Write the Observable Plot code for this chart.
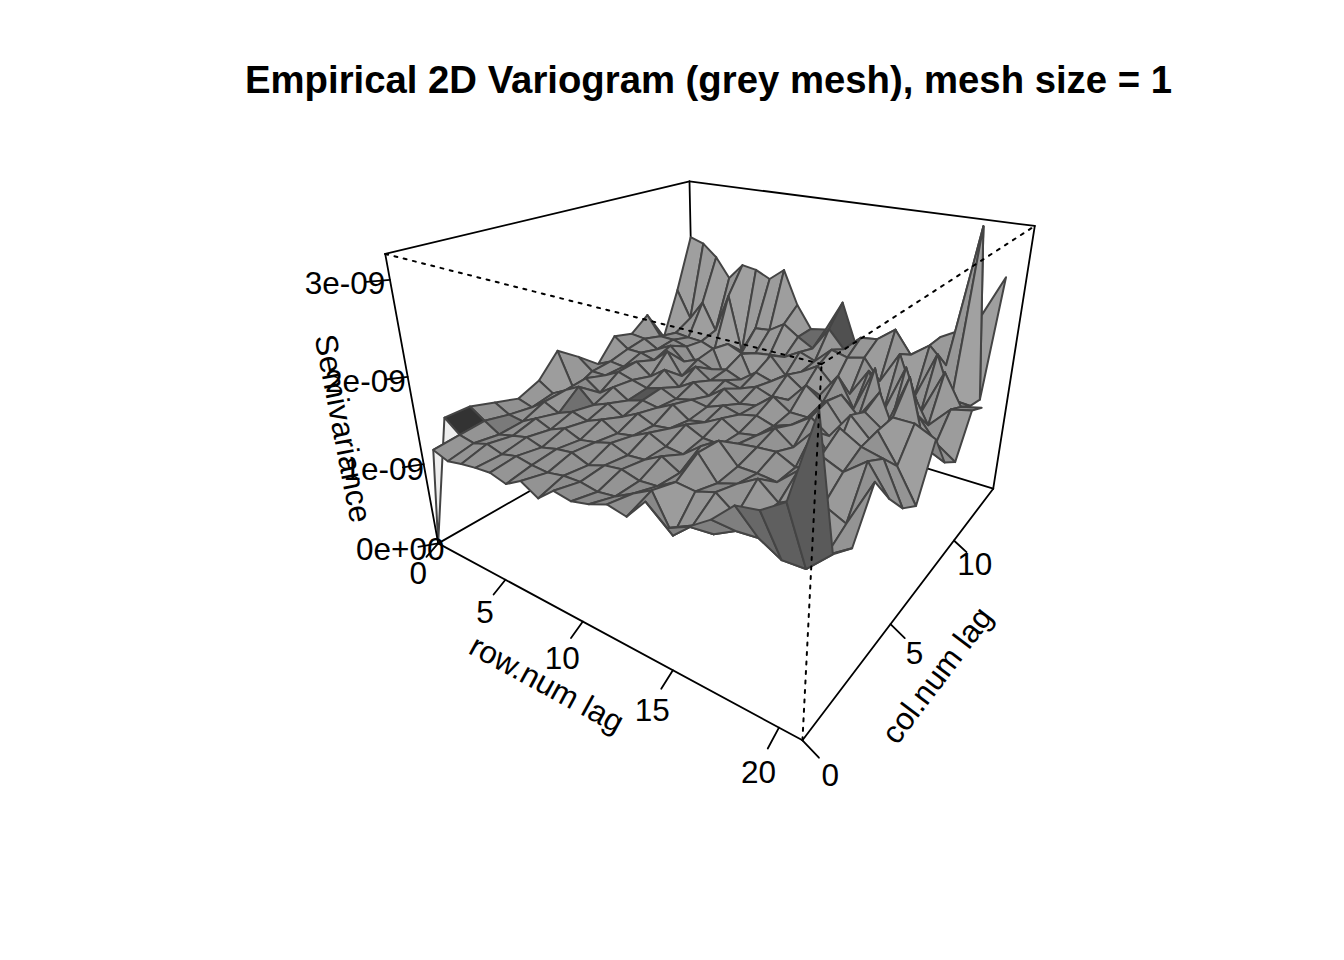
<!DOCTYPE html><html><head><meta charset="utf-8"><style>body{margin:0;background:#fff}</style></head><body>
<script src="https://cdn.jsdelivr.net/npm/d3@7"></script>
<script src="https://cdn.jsdelivr.net/npm/@observablehq/plot@0.6"></script>
<script>
const titleText="Empirical 2D Variogram (grey mesh), mesh size = 1";
const rowTicks=[0,5,10,15,20], colTicks=[0,5,10], zTicks=[0,1,2,3], zTickLabels=["0e+00","1e-09","2e-09","3e-09"];
const rowMax=21,colMax=14,zMax=3.25;
// semivariance (×1e-9), one array per row lag, columns = col lag 0..14
const semivariance=[
[0,1.41,1.41,1.33,1.25,1.36,1.63,1.44,1.23,1.51,1.44,1.61,1.19,1.79,2.48],
[1.24,1.27,1.3,1.24,1.2,1.25,1.18,1.3,1.32,1.38,1.42,1.35,1.3,1.42,2.42],
[1.18,1.24,1.2,1.22,1.33,1.35,1.38,1.3,1.3,1.38,1.32,1.35,1.28,1.69,2.26],
[1.22,1.3,1.25,1.32,1.25,1.45,1.25,1.4,1.42,1.33,1.42,1.3,1.27,1.33,2.0],
[1.25,1.25,1.3,1.25,1.33,1.28,1.38,1.35,1.28,1.5,1.25,1.03,1.2,1.87,2.22],
[1.27,1.3,1.25,1.33,1.28,1.36,1.27,1.3,1.42,1.22,1.33,1.37,1.33,1.12,2.19],
[1.22,1.27,1.3,1.26,1.36,1.26,1.33,1.36,1.25,1.4,1.25,.93,1.25,1.5,2.1],
[1.33,1.26,1.33,1.3,1.26,1.36,1.3,1.28,1.37,1.27,1.3,1.4,1.3,1.52,2.26],
[1.22,1.3,1.26,1.36,1.3,1.28,1.4,1.33,1.25,1.33,1.22,1.0,1.33,1.65,1.82],
[1.38,1.31,1.33,1.29,1.4,1.31,1.27,1.3,1.4,1.28,1.37,1.48,1.35,1.52,1.53],
[1.35,1.28,1.36,1.31,1.31,1.42,1.31,1.38,1.27,1.36,1.31,1.27,1.47,1.41,1.57],
[1.4,1.31,1.31,1.42,1.29,1.33,1.42,1.33,1.31,1.29,1.45,1.37,1.4,1.72,1.98],
[1.48,1.42,1.33,1.31,1.45,1.32,1.31,1.38,1.48,1.31,1.31,1.5,1.6,1.5,1.46],
[1.44,1.53,1.45,1.6,1.58,1.4,1.35,1.32,1.35,1.55,1.3,1.3,1.55,1.7,1.4],
[1.67,1.15,1.43,1.35,1.37,1.43,1.5,1.4,1.35,1.4,1.6,1.25,1.6,1.73,1.53],
[1.5,1.34,1.5,1.42,1.37,1.45,1.35,1.55,1.6,1.55,1.25,1.6,1.35,1.9,1.5],
[1.6,1.34,1.35,1.55,1.35,1.35,1.6,1.4,1.35,1.35,1.8,1.15,1.75,1.63,1.35],
[1.75,1.46,1.4,1.38,1.55,1.45,1.35,1.7,1.6,1.7,1.1,1.75,1.25,1.8,1.8],
[1.96,1.48,1.4,1.5,1.77,1.9,1.35,1.5,1.45,1.25,1.65,1.25,1.85,1.6,1.93],
[2.0,1.36,1.55,1.52,1.68,1.78,1.8,1.8,2.1,1.55,1.3,1.8,1.35,3.25,2.14],
[2.15,1.37,1.3,1.42,1.86,1.73,1.5,1.8,1.4,1.3,1.55,1.45,1.33,1.28,2.65],
[2.93,1.6,1.46,1.9,1.57,1.3,1.15,1.7,1.3,1.15,1.6,1.5,null,null,null]];
// facets whose grey differs from the shading model, "row,col": grey
const cellOverrides={"0,0":"#eeeeee","0,1":"#333333","1,2":"#7a7a7a","3,4":"#707070","5,6":"#555555","6,10":"#6a6a6a","9,13":"#6a6a6a","10,13":"#666666","11,13":"#505050","18,0":"#686868","19,0":"#5f5f5f","20,0":"#5a5a5a"};

// R persp()-style camera
const theta=35*Math.PI/180,phi=24.42*Math.PI/180,expand=.7022,eye=3.7251;
const ct=Math.cos(theta),st=Math.sin(theta),cp=Math.cos(phi),sp=Math.sin(phi);
function project(r,c,z){
  const x=2*r/rowMax-1,y=2*c/colMax-1,Z=(2*z/zMax-1)*expand;
  const X=x*ct+y*st,d=x*st-y*ct;
  const w=eye-(Z*sp+d*cp);
  return {x:X/w,y:(Z*cp-d*sp)/w};
}
const k=797.63,X0=730.65,Y0=387.02;
const L=[-Math.SQRT1_2,Math.SQRT1_2,0];
function shade(r,c){
  const a=2/rowMax,b=2/colMax,zs=2*expand/zMax,z=semivariance;
  const p=zs*(z[r][c+1]-z[r+1][c]),q=zs*(z[r+1][c+1]-z[r][c]);
  const n=[-b*(p+q),a*(p-q),2*a*b],m=Math.hypot(...n);
  const d=(n[0]*L[0]+n[1]*L[1]+n[2]*L[2])/m;
  const v=Math.round(146+(d>0?16:26)*d);
  return `rgb(${v},${v},${v})`;
}
const cells=[];
for(let r=0;r<rowMax;r++)for(let c=0;c<colMax;c++){
  const z=semivariance;
  if([z[r][c],z[r+1][c],z[r+1][c+1],z[r][c+1]].some(v=>v==null))continue;
  cells.push({r,c,depth:(2*(r+.5)/rowMax-1)*st-(2*(c+.5)/colMax-1)*ct});
}
cells.sort((a,b)=>a.depth-b.depth);
const facetPts=[];
cells.forEach((f,i)=>{
  const fill=cellOverrides[f.r+","+f.c]||shade(f.r,f.c);
  for(const [dr,dc] of [[0,0],[1,0],[1,1],[0,1]]){
    const q=project(f.r+dr,f.c+dc,semivariance[f.r+dr][f.c+dc]);
    facetPts.push({...q,id:i,fill});
  }
});
const edge=(id,a,b)=>[{...project(...a),id},{...project(...b),id}];
const A=[0,0,0],B=[rowMax,0,0],C=[rowMax,colMax,0],D=[0,colMax,0];
const up=p=>[p[0],p[1],zMax];
const backEdges=[[A,D],[D,C],[D,up(D)],[up(A),up(D)],[up(D),up(C)]].flatMap((e,i)=>edge(i,e[0],e[1]));
const frontEdges=[[A,B],[B,C],[A,up(A)],[C,up(C)]].flatMap((e,i)=>edge(i,e[0],e[1]));
const hiddenEdges=[[up(A),up(B)],[up(B),up(C)],[B,up(B)]].flatMap((e,i)=>edge(i,e[0],e[1]));
const tickMarks=[
 ...rowTicks.flatMap((t,i)=>edge("r"+i,[t,0,0],[t,-.5,-.08])),
 ...colTicks.flatMap((t,i)=>edge("c"+i,[rowMax,t,0],[rowMax+.7,t,-.09])),
 ...zTicks.flatMap((t,i)=>edge("z"+i,[0,0,t],[-.55,-.5,t]))];
const tickLabels=[
 ...rowTicks.map(t=>({...project(t,-.9,-.23),s:String(t)})),
 ...colTicks.map(t=>({...project(rowMax+1.2,t,-.22),s:String(t)})),
 ...zTicks.map((t,i)=>({...project(-1.05,-.95,t),s:zTickLabels[i]}))];
const font={fontFamily:"'Liberation Sans',Arial,sans-serif",fill:"#000"};
const axisTitles=[{s:"row.num lag",dx:546,dy:684,a:28.5},{s:"col.num lag",dx:937,dy:675,a:-53},{s:"Semivariance",dx:342,dy:428,a:79}];
const plot=Plot.plot({
  width:1344,height:960,margin:0,
  x:{domain:[-X0/k,(1344-X0)/k],range:[0,1344],axis:null},
  y:{domain:[Y0/k,(Y0-960)/k],range:[0,960],axis:null},
  color:{type:"identity"},
  marks:[
    Plot.line(backEdges,{x:"x",y:"y",z:"id",stroke:"#000",strokeWidth:1.8}),
    Plot.line(facetPts,{x:"x",y:"y",z:"id",fill:"fill",stroke:"#444",strokeWidth:2,curve:"linear-closed",strokeLinejoin:"round"}),
    Plot.line(frontEdges,{x:"x",y:"y",z:"id",stroke:"#000",strokeWidth:1.8}),
    Plot.line(hiddenEdges,{x:"x",y:"y",z:"id",stroke:"#000",strokeWidth:2,strokeDasharray:"3 6.5"}),
    Plot.line(tickMarks,{x:"x",y:"y",z:"id",stroke:"#000",strokeWidth:1.8}),
    Plot.text(tickLabels,{x:"x",y:"y",text:"s",fontSize:31.5,...font}),
    ...axisTitles.map(t=>Plot.text([t.s],{frameAnchor:"top-left",dx:t.dx,dy:t.dy,rotate:t.a,textAnchor:"middle",lineAnchor:"middle",fontSize:31.5,...font})),
    Plot.text([titleText],{frameAnchor:"top-left",dx:708,dy:80,textAnchor:"middle",lineAnchor:"middle",fontSize:38.3,fontWeight:"bold",...font})
  ]
});
document.body.append(plot);
</script></body></html>
